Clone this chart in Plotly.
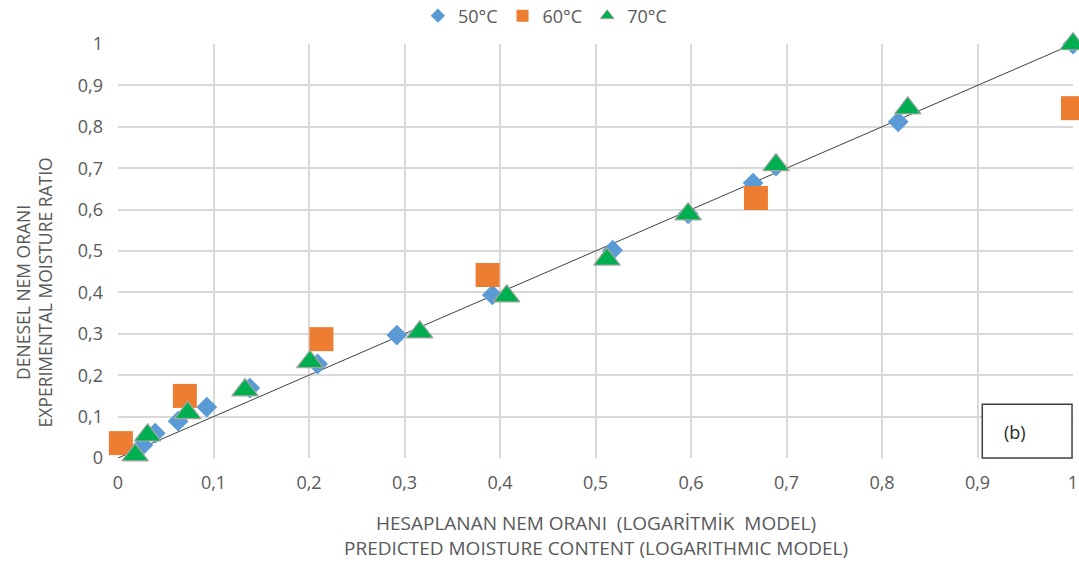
import plotly.graph_objects as go

# 50°C
x50 = [0.026, 0.039, 0.063, 0.093, 0.138, 0.209, 0.292, 0.392, 0.518, 0.597, 0.665, 0.689, 0.817, 1.0]
y50 = [0.031, 0.060, 0.089, 0.123, 0.169, 0.227, 0.297, 0.394, 0.502, 0.590, 0.664, 0.705, 0.812, 1.0]
# 60°C
x60 = [0.003, 0.070, 0.213, 0.387, 0.668, 1.0]
y60 = [0.036, 0.150, 0.287, 0.442, 0.628, 0.845]
# 70°C
x70 = [0.018, 0.031, 0.073, 0.133, 0.201, 0.316, 0.407, 0.512, 0.597, 0.689, 0.827, 1.0]
y70 = [0.007, 0.055, 0.109, 0.164, 0.232, 0.304, 0.391, 0.480, 0.589, 0.708, 0.845, 1.0]
# reference line
xline = [0, 1]
yline = [0, 1]

ticks = [0, 0.1, 0.2, 0.3, 0.4, 0.5, 0.6, 0.7, 0.8, 0.9, 1]
ticktext = ["0", "0,1", "0,2", "0,3", "0,4", "0,5", "0,6", "0,7", "0,8", "0,9", "1"]

FONT = "'Open Sans', sans-serif"
GRAY = "#595959"

C50, C60, C70 = "#5b9bd5", "#ed7d31", "#00b050"

fig = go.Figure()
fig.add_trace(go.Scatter(x=xline, y=yline, mode="lines", line=dict(color="#404040", width=1),
                         showlegend=False, hoverinfo="skip", cliponaxis=False))
fig.add_trace(go.Scatter(x=x50, y=y50, mode="markers", name="50°C", legendgroup="a", showlegend=False,
                         cliponaxis=False,
                         marker=dict(symbol="diamond", size=16, color=C50)))
fig.add_trace(go.Scatter(x=x60, y=y60, mode="markers", name="60°C", legendgroup="b", showlegend=False,
                         cliponaxis=False,
                         marker=dict(symbol="square", size=24, color=C60)))
fig.add_trace(go.Scatter(x=x70, y=y70, mode="markers", name="70°C", legendgroup="c", showlegend=False,
                         cliponaxis=False,
                         marker=dict(symbol="triangle-up", size=23, color=C70,
                                     line=dict(color="#a5a5a5", width=1.2))))
# legend entries (smaller symbols like the reference)
fig.add_trace(go.Scatter(x=[None], y=[None], mode="markers", name="50°C", legendgroup="a",
                         marker=dict(symbol="diamond", size=11, color=C50)))
fig.add_trace(go.Scatter(x=[None], y=[None], mode="markers", name="60°C", legendgroup="b",
                         marker=dict(symbol="square", size=12, color=C60)))
fig.add_trace(go.Scatter(x=[None], y=[None], mode="markers", name="70°C", legendgroup="c",
                         marker=dict(symbol="triangle-up", size=12, color=C70,
                                     line=dict(color="#a5a5a5", width=1))))

axis_common = dict(
    range=[0, 1], tickvals=ticks, ticktext=ticktext,
    showgrid=True, gridcolor="#d9d9d9", gridwidth=1.5,
    zeroline=False, showline=False, ticks="", automargin=False,
    tickfont=dict(family=FONT, size=18, color=GRAY),
)

fig.update_layout(
    width=1079, height=564,
    margin=dict(l=118, r=6, t=44, b=106),
    paper_bgcolor="white", plot_bgcolor="white",
    font=dict(family=FONT, color=GRAY),
    xaxis=dict(**axis_common, ticklabelstandoff=12),
    yaxis=dict(**axis_common, ticklabelstandoff=14),
    legend=dict(orientation="h", x=0.505, xanchor="center", xref="container",
                y=1 - 16 / 564, yanchor="middle", yref="container",
                font=dict(family=FONT, size=18, color=GRAY), itemwidth=30),
    shapes=[dict(type="rect", xref="paper", yref="paper", x0=0.905, x1=0.999, y0=0.0, y1=0.13,
                 line=dict(color="#404040", width=1.5), fillcolor="white", layer="above")],
    annotations=[
        dict(text="(b)", xref="paper", yref="paper", x=0.939, y=0.063,
             xanchor="center", yanchor="middle",
             showarrow=False, font=dict(family=FONT, size=18, color="#262626")),
        dict(text="HESAPLANAN NEM ORANI  (LOGARİTMİK  MODEL)<br>PREDICTED MOISTURE CONTENT (LOGARITHMIC MODEL)",
             xref="paper", yref="paper", x=0.5, y=(458 - 535) / 414, xanchor="center", yanchor="middle",
             showarrow=False, font=dict(family=FONT, size=19, color=GRAY)),
        dict(text="DENESEL NEM ORANI<br>EXPERIMENTAL MOISTURE RATIO", textangle=-90,
             xref="paper", yref="paper", x=(34 - 118) / 955, xanchor="center", y=0.40, yanchor="middle",
             showarrow=False, font=dict(family=FONT, size=17.5, color=GRAY)),
    ],
)

fig.write_html("out.html", config={"displayModeBar": False},
               post_script="document.body.style.margin='0';")
